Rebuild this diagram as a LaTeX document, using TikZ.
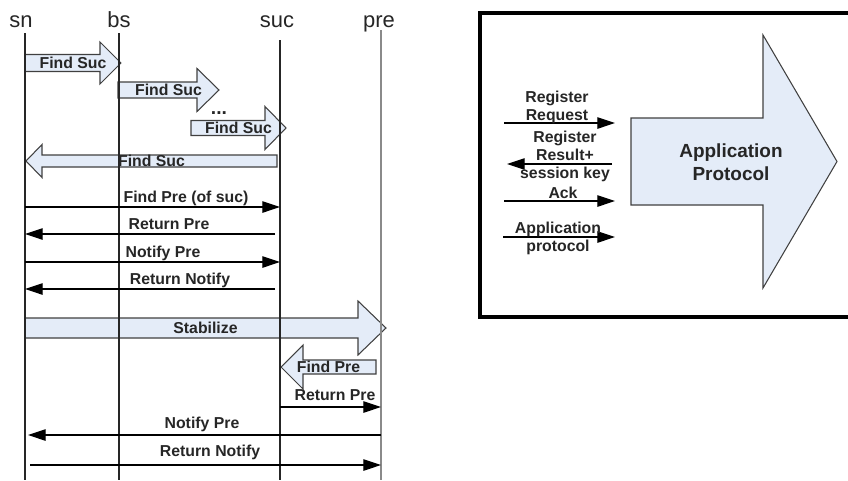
\documentclass[tikz,border=0pt]{standalone}
\usepackage{fontspec}
\setmainfont{Liberation Sans}
\usetikzlibrary{arrows.meta, calc}
\definecolor{cFill}{HTML}{E4ECF8}
\definecolor{cEdge}{HTML}{404040}
\definecolor{cText}{HTML}{262626}
\definecolor{cLife}{HTML}{8A8A8A}
\tikzset{
  lifehead/.style={font=\fontsize{12.5}{15}\selectfont, text=cText, anchor=base, inner sep=0pt},
  lifeline/.style={line width=0.6pt, draw=black!85},
  msg/.style={-{Triangle[length=10pt, width=6.5pt]}, line width=0.6pt},
  lbl/.style={font=\fontsize{9}{10.2}\selectfont\bfseries, text=cText, inner sep=0pt, align=center},
  blockarr/.style={draw=cEdge, fill=cFill, line width=0.6pt},
  bigbox/.style={draw=black, line width=1.8pt},
  biglbl/.style={font=\fontsize{10.8}{12.8}\selectfont\bfseries, text=cText, inner sep=0pt, align=center},
}
% block arrow: name, tail x, head base x, tip x, y, shaft half, head half, label
\newcommand{\blockarrow}[8]{%
  \draw[blockarr] (#2,#5-#6) -- (#3,#5-#6) -- (#3,#5-#7) -- (#4,#5)
    -- (#3,#5+#7) -- (#3,#5+#6) -- (#2,#5+#6) -- cycle;
  \node[lbl, anchor=base] (#1) at ({(#2+#4)/2},#5+5) {#8};
}

\begin{document}
\begin{tikzpicture}[x=0.02cm, y=-0.02cm]
  \useasboundingbox (0,0) rectangle (848,480);

  % lifeline heads
  \node[lifehead] (sn) at (21,28) {sn};
  \node[lifehead] (bs) at (119,28) {bs};
  \node[lifehead] (suc) at (277,28) {suc};
  \node[lifehead] (pre) at (379,28) {pre};
  \coordinate (snTop) at (25,33);
  \coordinate (bsTop) at (119,33);
  \coordinate (sucTop) at (280,40);
  \coordinate (preTop) at (381,30);

  % block arrows
  \blockarrow{fs1}{25}{100}{121}{63}{8.5}{21}{Find Suc}
  \blockarrow{fs2}{118}{197}{219}{90}{8}{21.5}{Find Suc}
  \node[lbl, font=\fontsize{11}{12}\selectfont\bfseries, anchor=base] (dots) at (219,114) {...};
  \blockarrow{fs3}{191}{265}{286}{128}{7.5}{21.5}{Find Suc}
  \blockarrow{fsback}{277}{42}{26}{161}{6}{16.5}{Find Suc}
  \blockarrow{stab}{25}{358}{386}{328}{10}{27}{Stabilize}
  \blockarrow{fp}{376}{303}{281}{367}{7}{22}{Find Pre}

  % lifelines
  \draw[lifeline] (snTop) -- (snTop |- 0,480);
  \draw[lifeline] (bsTop) -- (bsTop |- 0,480);
  \draw[lifeline] (sucTop) -- (sucTop |- 0,480);
  \draw[lifeline, draw=cLife, line width=1.2pt] (preTop) -- (preTop |- 0,480);

  % messages
  \draw[msg] (snTop |- 0,207) -- (sucTop |- 0,207);
  \node[lbl, anchor=base] (m1) at (186,202) {Find Pre (of suc)};
  \draw[msg] (275,234) -- (snTop |- 0,234);
  \node[lbl, anchor=base] (m2) at (169,229) {Return Pre};
  \draw[msg] (snTop |- 0,262) -- (sucTop |- 0,262);
  \node[lbl, anchor=base] (m3) at (163,257) {Notify Pre};
  \draw[msg] (275,289) -- (snTop |- 0,289);
  \node[lbl, anchor=base] (m4) at (180,284) {Return Notify};
  \draw[msg] (sucTop |- 0,407) -- (preTop |- 0,407);
  \node[lbl, anchor=base] (m5) at (335,400) {Return Pre};
  \draw[msg] (preTop |- 0,435) -- (28,435);
  \node[lbl, anchor=base] (m6) at (202,428) {Notify Pre};
  \draw[msg] (30,465) -- (preTop |- 0,465);
  \node[lbl, anchor=base] (m7) at (210,456) {Return Notify};

  % application protocol box
  \draw[bigbox] (480,13) rectangle (870,317);
  \draw[blockarr] (631,118) -- (763,118) -- (763,35) -- (837,161.5)
    -- (763,288) -- (763,205) -- (631,205) -- cycle;
  \node[biglbl] (app) at (731,162) {Application\\Protocol};

  \draw[msg] (504,123) -- (615,123);
  \node[lbl] (reg) at (557,107) {Register\\Request};
  \draw[msg] (612,164) -- (507,164);
  \node[lbl] (res) at (565,156) {Register\\Result+\\session key};
  \draw[msg] (504,201) -- (615,201);
  \node[lbl, anchor=base] (ack) at (563,198) {Ack};
  \draw[msg] (503,237) -- (615,237);
  \node[lbl] (appmsg) at (558,238) {Application\\protocol};
\end{tikzpicture}
\end{document}
